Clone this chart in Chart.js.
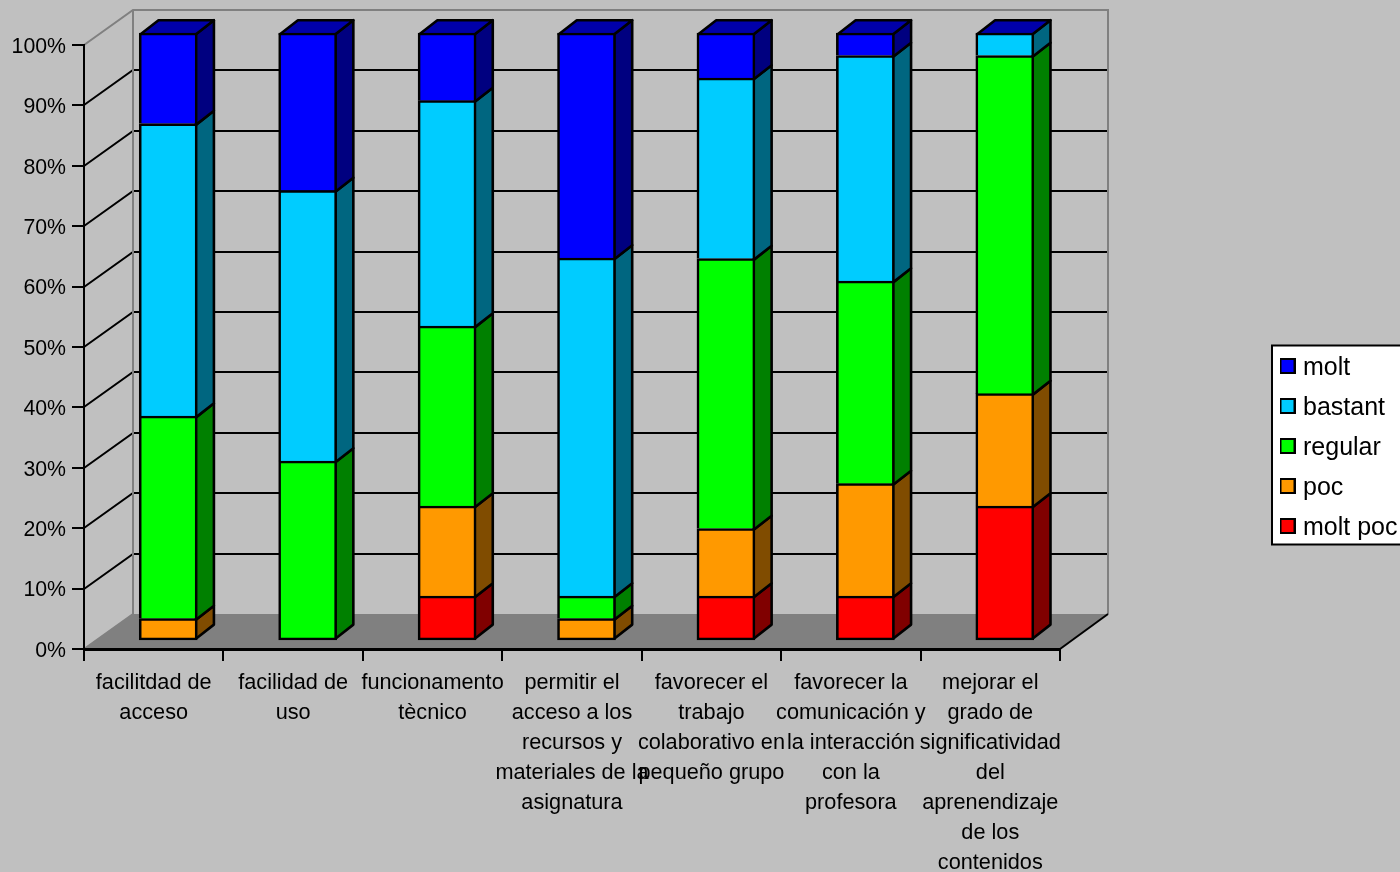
<!DOCTYPE html>
<html lang="es">
<head>
<meta charset="utf-8">
<title>Valoració</title>
<style>html,body{margin:0;padding:0;background:#c0c0c0;overflow:hidden}canvas{display:block}</style>
<script src="https://cdn.jsdelivr.net/npm/chart.js@4/dist/chart.umd.min.js"></script>
</head>
<body>
<canvas id="c" width="1400" height="872"></canvas>
<script>
const categories = [
  ['facilitdad de', 'acceso'],
  ['facilidad de', 'uso'],
  ['funcionamento', 'tècnico'],
  ['permitir el', 'acceso a los', 'recursos y', 'materiales de la', 'asignatura'],
  ['favorecer el', 'trabajo', 'colaborativo en', 'pequeño grupo'],
  ['favorecer la', 'comunicación y', 'la interacción', 'con la', 'profesora'],
  ['mejorar el', 'grado de', 'significatividad', 'del', 'aprenendizaje', 'de los', 'contenidos']
];
const moltPoc = [0, 0, 7.4, 0, 7.4, 7.4, 22.2];
const poc     = [3.7, 0, 14.8, 3.7, 11.1, 18.5, 18.5];
const regular = [33.3, 29.6, 29.6, 3.7, 44.4, 33.3, 55.6];
const bastant = [48.1, 44.5, 37.1, 55.6, 29.7, 37.1, 3.7];
const molt    = [14.9, 25.9, 11.1, 37.0, 7.4, 3.7, 0];

const seriesNames = ['molt poc', 'poc', 'regular', 'bastant', 'molt'];
const seriesValues = [moltPoc, poc, regular, bastant, molt];
const frontColors = ['#ff0000', '#ff9900', '#00ff00', '#00ccff', '#0000ff'];
const sideColors = ['#800000', '#804c00', '#008000', '#006680', '#000080'];
const capColor = '#0000aa';

// 3D box geometry (pixels)
const WALL_DX = 49, WALL_DY = 35, SIDE_DX = 18, SIDE_DY = 14;
const BAR_SHIFT_X = 14.5, BAR_LIFT = 8, BAR_STRETCH = 608 / 604;
const LW = 2, BAR_LW = 2.6;

function line(ctx, pts, color) {
  ctx.beginPath();
  pts.forEach((p, i) => i ? ctx.lineTo(p[0], p[1]) : ctx.moveTo(p[0], p[1]));
  ctx.strokeStyle = color; ctx.lineWidth = LW; ctx.stroke();
}
function face(ctx, pts, fill) {
  ctx.beginPath();
  pts.forEach((p, i) => i ? ctx.lineTo(p[0], p[1]) : ctx.moveTo(p[0], p[1]));
  ctx.closePath();
  ctx.fillStyle = fill; ctx.fill();
  ctx.strokeStyle = '#000'; ctx.lineWidth = BAR_LW; ctx.lineJoin = 'round'; ctx.stroke();
}

const box3d = {
  id: 'box3d',
  beforeLayout(chart) {
    const l = chart.legend;
    if (l && !l._wrapped) {
      const fit = l.fit.bind(l);
      l.fit = function () { fit(); this.width = 340; };
      l._wrapped = true;
    }
  },
  afterLayout(chart) {
    const l = chart.legend;
    const w = l.width, h = l.height;
    l.left = 1269.5; l.top = 340.5; l.right = l.left + w; l.bottom = l.top + h;
  },
  beforeDraw(chart) {
    const { ctx, chartArea: a, scales: { y } } = chart;
    ctx.save();
    ctx.fillStyle = '#c0c0c0';
    ctx.fillRect(0, 0, chart.width, chart.height);
    const L = a.left, R = a.right, B = a.bottom, T = a.top;
    // floor
    ctx.beginPath();
    ctx.moveTo(L, B); ctx.lineTo(R, B); ctx.lineTo(R + WALL_DX - 1, B - WALL_DY);
    ctx.lineTo(L + WALL_DX, B - WALL_DY); ctx.closePath();
    ctx.fillStyle = '#808080'; ctx.fill();
    // grid on side wall and back wall
    y.ticks.forEach(t => {
      if (t.value === 0 || t.value === 100) return;
      const py = Math.round(y.getPixelForValue(t.value));
      line(ctx, [[L, py], [L + WALL_DX, py - WALL_DY], [R + WALL_DX - 1, py - WALL_DY]], '#000');
    });
    // wall frame
    line(ctx, [[L, T], [L + WALL_DX, T - WALL_DY], [R + WALL_DX - 1, T - WALL_DY], [R + WALL_DX - 1, B - WALL_DY]], '#808080');
    line(ctx, [[L, B], [L + WALL_DX, B - WALL_DY], [L + WALL_DX, T - WALL_DY]], '#808080');
    line(ctx, [[R, B], [R + WALL_DX - 1, B - WALL_DY]], '#000');
    // legend frame
    ctx.fillStyle = '#fff';
    ctx.fillRect(1271, 345, 140, 200);
    ctx.strokeStyle = '#000'; ctx.lineWidth = LW;
    ctx.strokeRect(1272, 345.5, 140, 199);
    ctx.restore();
  },
  beforeDatasetsDraw(chart) {
    const { ctx, chartArea: a } = chart;
    ctx.save();
    ctx.transform(1, 0, 0, BAR_STRETCH, BAR_SHIFT_X, (a.bottom - BAR_LIFT) - a.bottom * BAR_STRETCH);
    categories.forEach((_, i) => {
      let top = null;
      chart.data.datasets.forEach((ds, d) => {
        const bar = chart.getDatasetMeta(d).data[i];
        const v = ds.data[i];
        const xr = bar.x + bar.width / 2 - BAR_LW / 2;
        if (v > 0) {
          const yt = bar.y + BAR_LW / 2;
          const yb = top === null ? bar.base - BAR_LW / 2 : bar.base + BAR_LW / 2;
          face(ctx, [[xr, yt], [xr + SIDE_DX, yt - SIDE_DY], [xr + SIDE_DX, yb - SIDE_DY], [xr, yb]], sideColors[d]);
          top = { yt, xl: bar.x - bar.width / 2 + BAR_LW / 2, xr };
        }
      });
      face(ctx, [[top.xl, top.yt], [top.xl + SIDE_DX, top.yt - SIDE_DY], [top.xr + SIDE_DX, top.yt - SIDE_DY], [top.xr, top.yt]], capColor);
    });
  },
  afterDatasetsDraw(chart) { chart.ctx.restore(); }
};

function swatch(color) {
  const c = document.createElement('canvas');
  c.width = 16; c.height = 20;
  const g = c.getContext('2d');
  g.fillStyle = color; g.fillRect(0, 0, 16, 16);
  g.strokeStyle = '#000'; g.lineWidth = 2; g.strokeRect(1, 1, 14, 14);
  return c;
}
const swatches = frontColors.map(swatch);

const datasets = seriesNames.map((name, d) => ({
  label: name,
  data: seriesValues[d],
  backgroundColor: frontColors[d],
  borderColor: '#000',
  borderSkipped: false,
  borderWidth: ctx => {
    const i = ctx.dataIndex;
    const isBottom = seriesValues.slice(0, d).every(s => s[i] === 0);
    return { top: BAR_LW, left: BAR_LW, right: BAR_LW, bottom: isBottom ? BAR_LW : 0 };
  },
  barThickness: 58,
  clip: false
}));

Chart.defaults.font.family = '"Liberation Sans", Arial, sans-serif';
Chart.defaults.color = '#000';

new Chart(document.getElementById('c'), {
  type: 'bar',
  data: { labels: categories, datasets },
  plugins: [box3d],
  options: {
    responsive: false,
    devicePixelRatio: 1,
    animation: false,
    layout: { padding: { top: 45, left: 0, right: 0, bottom: 0 } },
    plugins: {
      title: { display: false },
      tooltip: { enabled: false },
      legend: {
        display: true,
        position: 'right',
        align: 'start',
        reverse: true,
        labels: {
          color: '#000',
          font: { size: 25 },
          padding: 15,
          usePointStyle: true,
          pointStyleWidth: 6,
          boxHeight: 16,
          generateLabels: chart => Chart.defaults.plugins.legend.labels.generateLabels(chart)
            .map(it => ({ ...it, pointStyle: swatches[it.datasetIndex], lineWidth: 0 }))
        }
      }
    },
    scales: {
      x: {
        stacked: true,
        afterFit: s => { s.height = 223; },
        grid: { offset: true, drawOnChartArea: false, drawTicks: true, tickLength: 12, color: '#000', lineWidth: LW },
        border: { display: true, color: '#000', width: 3 },
        ticks: { autoSkip: false, maxRotation: 0, minRotation: 0, padding: 7, color: '#000',
          font: { size: 21.7, lineHeight: 30 / 21.7 } }
      },
      y: {
        stacked: true,
        min: 0, max: 100,
        afterFit: s => { s.width = 84; },
        grid: { drawOnChartArea: false, drawTicks: true, tickLength: 12, color: '#000', lineWidth: LW },
        border: { display: true, color: '#000', width: LW },
        ticks: { stepSize: 10, padding: 6, labelOffset: 2, color: '#000', font: { size: 21.3 }, callback: v => v + '%' }
      }
    }
  }
});
</script>
</body>
</html>
